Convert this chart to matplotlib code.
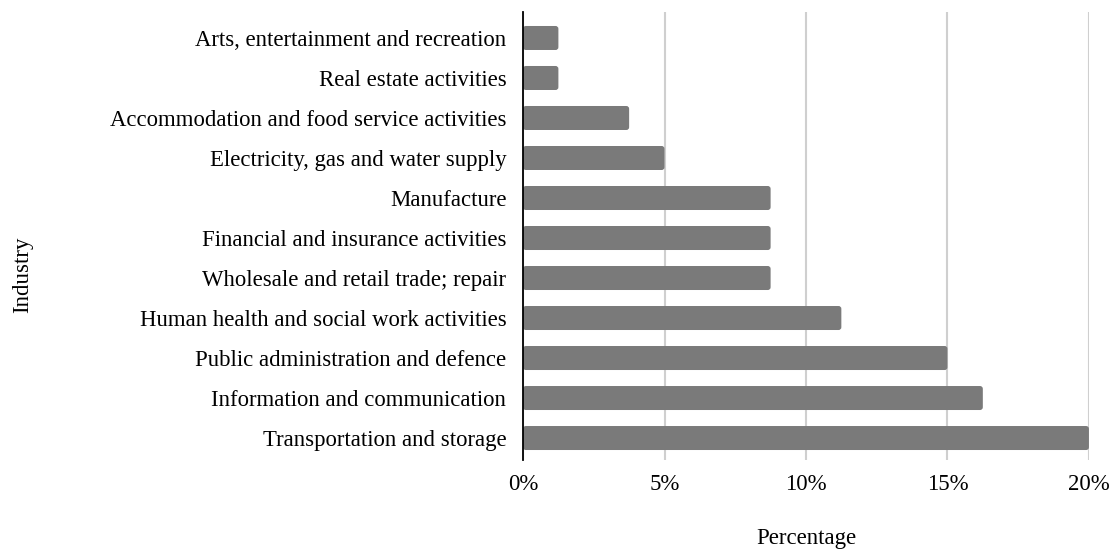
import matplotlib
matplotlib.use('agg')
import numpy as np
import matplotlib.pyplot as plt
from matplotlib.patches import FancyBboxPatch
from matplotlib.ticker import FuncFormatter

industries = ['Arts, entertainment and recreation',
              'Real estate activities',
              'Accommodation and food service activities',
              'Electricity, gas and water supply',
              'Manufacture',
              'Financial and insurance activities',
              'Wholesale and retail trade; repair',
              'Human health and social work activities',
              'Public administration and defence',
              'Information and communication',
              'Transportation and storage']
percent = [1.25, 1.25, 3.75, 5.0, 8.75, 8.75, 8.75, 11.25, 15.0, 16.25, 20.0]
xticks = [0, 5, 10, 15, 20]

plt.rcParams['font.family'] = ['Liberation Serif', 'DejaVu Serif']

fig = plt.figure(figsize=(11.14, 5.5), dpi=100)
ax = fig.add_axes([0.4695, 0.1636, 0.508, 0.8146])

ypos = np.arange(len(industries))
bars = ax.barh(ypos, percent, height=0.6, color='#7a7a7a', zorder=3)
# swap plain rectangles for slightly rounded ones
for r in bars:
    r.set_visible(False)
    ax.add_patch(FancyBboxPatch((r.get_x(), r.get_y()), r.get_width(), r.get_height(),
                                boxstyle='round,pad=0,rounding_size=0.1',
                                mutation_aspect=0.7, facecolor='#7a7a7a',
                                edgecolor='none', zorder=3))
ax.set_ylim(len(industries) - 0.45, -0.65)
ax.set_xlim(0, 20)
ax.set_yticks(ypos)
ax.set_yticklabels(industries, fontsize=16.4)
ax.set_xticks(xticks)
ax.xaxis.set_major_formatter(FuncFormatter(lambda v, p: '%d%%' % v))
ax.tick_params(axis='x', labelsize=16.5, length=0, pad=10)
ax.tick_params(axis='y', length=0, pad=12)
ax.grid(axis='x', color='#cfcfcf', linewidth=1.5, zorder=0)
for s in ['top', 'right', 'bottom']:
    ax.spines[s].set_visible(False)
ax.spines['left'].set_linewidth(1.3)
ax.spines['left'].set_zorder(4)

ax.set_xlabel('Percentage', fontsize=16.5, labelpad=23.5)
fig.text(0.02, 0.5, 'Industry', rotation=90, fontsize=16.5, va='center', ha='center')

plt.savefig('out.png')
